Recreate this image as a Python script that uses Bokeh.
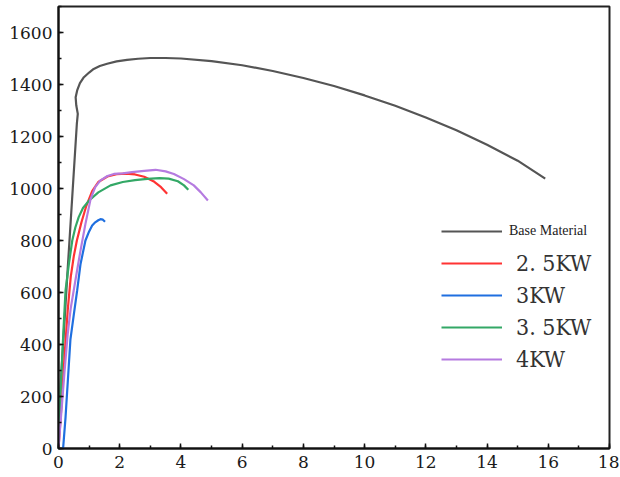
from bokeh.plotting import figure
from bokeh.models import Range1d, SingleIntervalTicker, Legend, LegendItem
from bokeh.embed import file_html
from bokeh.resources import INLINE

# ---- data (strain %, stress MPa) ----
base_x = [0.0, 0.3, 0.6, 0.63, 0.58, 0.56, 0.61, 0.7, 0.83, 1.0, 1.15, 1.35, 1.59, 1.9, 2.24, 2.6,
          3.0, 3.5, 4.0, 5.0, 6.0, 7.0, 8.0, 9.0, 10.0, 11.0, 12.0, 13.0, 14.0, 15.0, 15.9]
base_y = [110, 690, 1250, 1287, 1320, 1351, 1377, 1405, 1428, 1446, 1460, 1471, 1480, 1489, 1495, 1499,
          1502, 1502, 1500, 1490, 1474, 1452, 1425, 1394, 1358, 1318, 1273, 1224, 1168, 1107, 1038]

kw25_x = [0.0, 0.1, 0.2, 0.3, 0.4, 0.5, 0.6, 0.75, 0.9, 1.1, 1.3, 1.6, 1.9, 2.2, 2.5, 2.8, 3.1, 3.35, 3.55]
kw25_y = [0, 170, 360, 530, 660, 740, 800, 870, 930, 990, 1025, 1046, 1055, 1057, 1054, 1045, 1028, 1005, 980]

kw3_x = [0.15, 0.23, 0.31, 0.39, 0.5, 0.61, 0.72, 0.88, 1.0, 1.1, 1.2, 1.3, 1.37, 1.45, 1.52]
kw3_y = [0, 120, 270, 420, 515, 608, 710, 800, 835, 858, 870, 878, 882, 880, 872]

kw35_x = [0.0, 0.08, 0.16, 0.23, 0.34, 0.45, 0.55, 0.66, 0.8, 1.0, 1.3, 1.7, 2.1, 2.5, 2.9, 3.3, 3.6,
          3.9, 4.1, 4.24]
kw35_y = [50, 250, 450, 608, 710, 800, 850, 890, 925, 954, 985, 1012, 1025, 1032, 1037, 1040, 1038,
          1028, 1012, 995]

kw4_x = [0.0, 0.1, 0.2, 0.3, 0.4, 0.5, 0.6, 0.72, 0.88, 1.05, 1.2, 1.37, 1.6, 1.81, 2.1, 2.4, 2.8,
         3.17, 3.5, 3.77, 4.1, 4.42, 4.65, 4.88]
kw4_y = [0, 150, 300, 440, 540, 610, 680, 762, 864, 960, 1005, 1031, 1048, 1056, 1058, 1063, 1068,
         1072, 1066, 1056, 1036, 1012, 985, 954]

labels = ["Base Material", "2. 5KW", "3KW", "3. 5KW", "4KW"]
colors = ["#555555", "#ff3333", "#1f6fe0", "#33a866", "#b57be0"]

x_ticks_interval = 2
y_ticks_interval = 200

TICK_FONT = "'DejaVu Serif', serif"

p = figure(width=619, height=476, output_backend="svg", toolbar_location=None,
           x_range=Range1d(0, 18), y_range=Range1d(0, 1700),
           min_border_left=58, min_border_right=10, min_border_top=6, min_border_bottom=28)
p.background_fill_color = "white"
p.border_fill_color = "white"
p.outline_line_color = "#222222"
p.outline_line_width = 2
p.grid.visible = False

series = [(base_x, base_y), (kw25_x, kw25_y), (kw3_x, kw3_y), (kw35_x, kw35_y), (kw4_x, kw4_y)]
renderers = []
for (xs, ys), c in zip(series, colors):
    r = p.line(xs, ys, line_color=c, line_width=2.2)
    renderers.append(r)

p.xaxis.ticker = SingleIntervalTicker(interval=x_ticks_interval, num_minor_ticks=2)
p.yaxis.ticker = SingleIntervalTicker(interval=y_ticks_interval, num_minor_ticks=2)
for ax in (p.xaxis[0], p.yaxis[0]):
    ax.axis_line_color = "#111111"
    ax.axis_line_width = 2
    ax.major_tick_in = 5
    ax.major_tick_out = 0
    ax.minor_tick_in = 3
    ax.minor_tick_out = 0
    ax.major_tick_line_color = "#111111"
    ax.minor_tick_line_color = "#111111"
    ax.major_tick_line_width = 1.5
    ax.minor_tick_line_width = 1.5
    ax.major_label_text_font = TICK_FONT
    ax.major_label_text_font_size = "17px"
    ax.major_label_text_color = "#1a1a1a"
p.xaxis.major_label_standoff = 7
p.yaxis.major_label_standoff = 6

leg1 = Legend(items=[LegendItem(label=labels[0], renderers=[renderers[0]])],
              location=(383, 207), margin=0, padding=0, spacing=0,
              glyph_width=61, glyph_height=20, label_standoff=7,
              label_text_font="'Liberation Serif', serif", label_text_font_size="14px",
              label_text_color="#222222", border_line_alpha=0, background_fill_alpha=0)
leg2 = Legend(items=[LegendItem(label=labels[i], renderers=[renderers[i]]) for i in range(1, 5)],
              location=(383, 73), margin=0, padding=0, spacing=0,
              glyph_width=61, glyph_height=32, label_standoff=14,
              label_text_font="'DejaVu Serif Condensed', 'DejaVu Serif', serif",
              label_text_font_size="23px",
              label_text_color="#333333", border_line_alpha=0, background_fill_alpha=0)
p.add_layout(leg1, "center")
p.add_layout(leg2, "center")

open("out.html", "w").write(file_html(p, INLINE))
